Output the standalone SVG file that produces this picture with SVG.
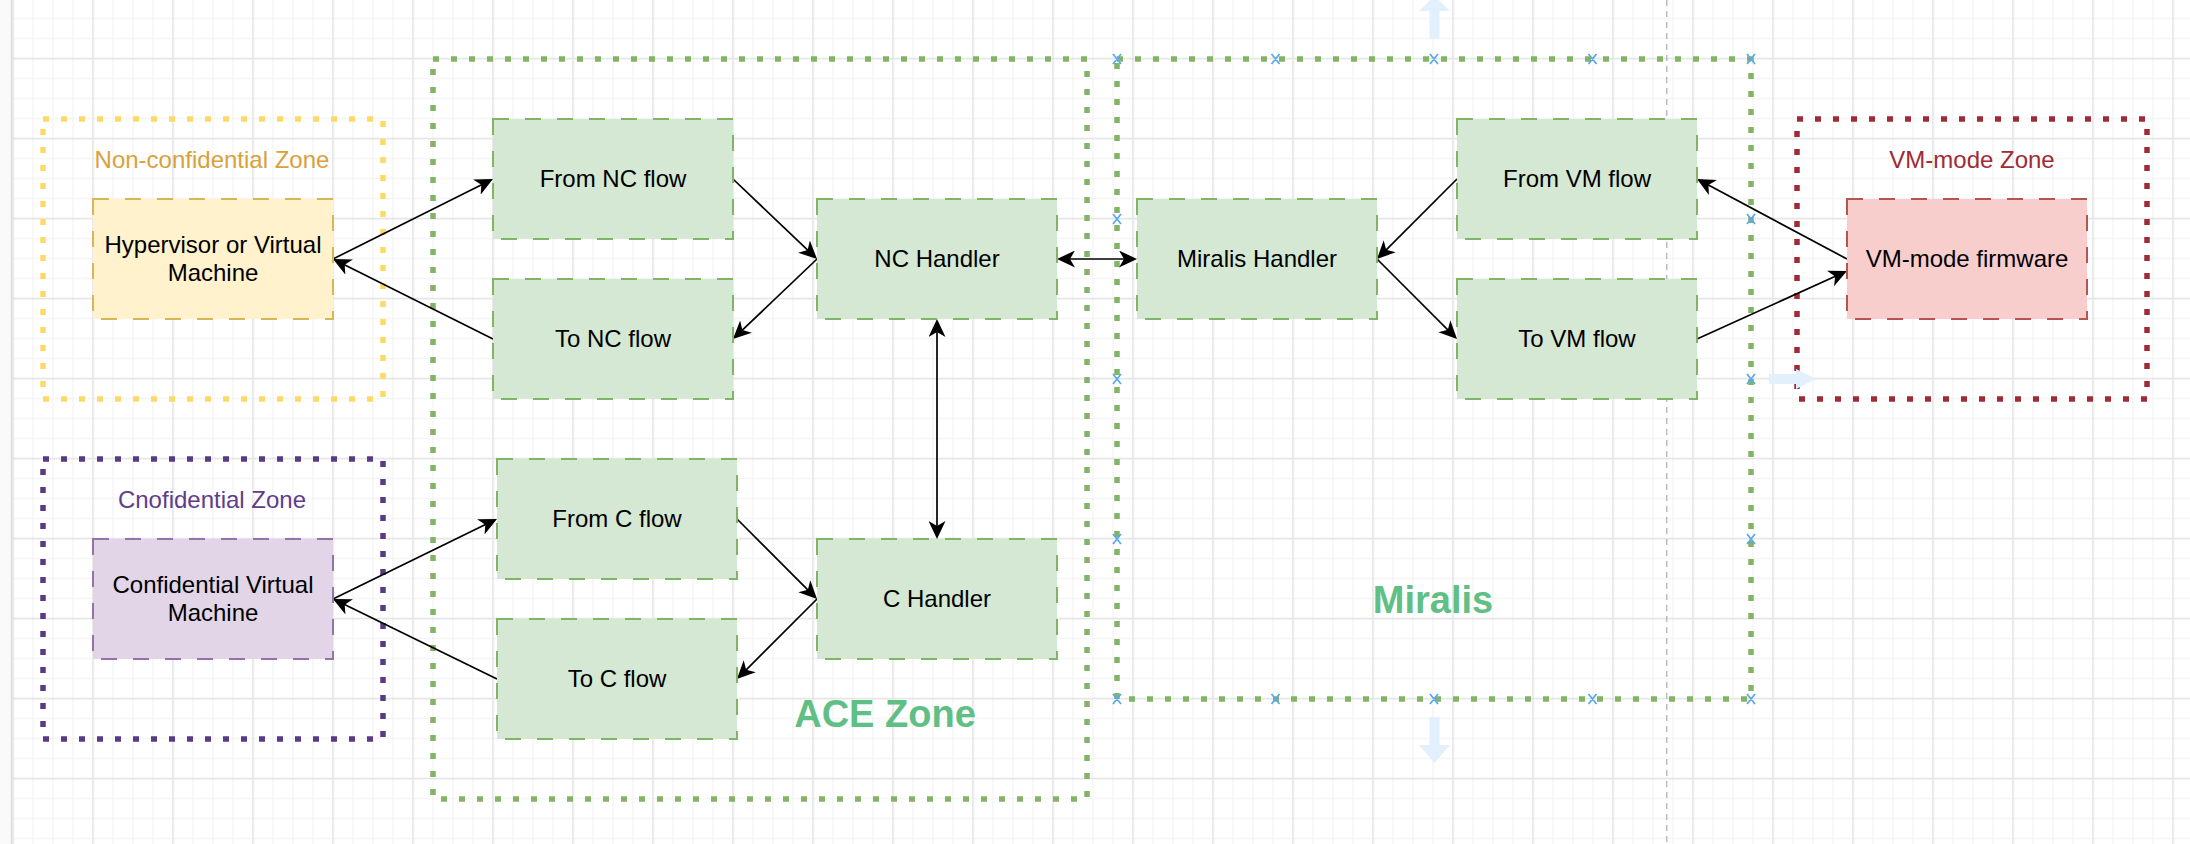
<svg xmlns="http://www.w3.org/2000/svg" width="2190" height="844" viewBox="0 0 2190 844">
<defs>
<pattern id="grid" patternUnits="userSpaceOnUse" x="12.25" y="57.75" width="80" height="80">
<rect width="80" height="80" fill="#ffffff"/>
<rect x="20.25" y="0" width="1" height="80" fill="#f1f1f1"/>
<rect x="40.25" y="0" width="1" height="80" fill="#f1f1f1"/>
<rect x="60.25" y="0" width="1" height="80" fill="#f1f1f1"/>
<rect x="0" y="20.25" width="80" height="1" fill="#f1f1f1"/>
<rect x="0" y="40.25" width="80" height="1" fill="#f1f1f1"/>
<rect x="0" y="60.25" width="80" height="1" fill="#f1f1f1"/>
<rect x="0" y="0" width="1.5" height="80" fill="#e2e2e2"/>
<rect x="0" y="0" width="80" height="1.5" fill="#e2e2e2"/>
</pattern>
<marker id="arr" markerUnits="userSpaceOnUse" markerWidth="18" markerHeight="17" refX="12" refY="8.5" orient="auto-start-reverse" viewBox="0 0 18 17">
<path d="M0,0 L18,8.5 L0,17 L5,8.5 Z" fill="#000000"/>
</marker>
<style>
.zone{fill:none;stroke-width:5.5;stroke-dasharray:6 12;}
.box{stroke-width:2;stroke-dasharray:16 16;}
.g{fill:#D5E8D4;stroke:#82B366;}
.t{font-family:"Liberation Sans",Arial,Helvetica,sans-serif;font-size:24px;text-anchor:middle;fill:#000000;}
.big{font-family:"Liberation Sans",Arial,Helvetica,sans-serif;font-size:38px;font-weight:bold;text-anchor:middle;fill:#60BF84;}
.c{fill:none;stroke:#000000;stroke-width:1.7;marker-end:url(#arr);}
.cb{marker-start:url(#arr);}
.xm{fill:none;stroke:#5AA9EE;stroke-width:1.8;}
.hov{fill:#E1F0FC;}
</style>
</defs>

<g id="background">
<rect x="0" y="0" width="2190" height="844" fill="url(#grid)"/>
<rect x="0" y="0" width="11" height="844" fill="#fafafa"/>
<line x1="11.5" y1="0" x2="11.5" y2="844" stroke="#dedede" stroke-width="1.5"/>
<line x1="1666.7" y1="0" x2="1666.7" y2="844" stroke="#bbbbbb" stroke-width="1.5" stroke-dasharray="6 5"/>
</g>

<g id="zone-nc">
<rect class="zone" x="43" y="119" width="340" height="280" stroke="#FFD966"/>
<text class="t" x="212" y="168" style="fill:#D8A23A">Non-confidential Zone</text>
</g>
<g id="zone-c">
<rect class="zone" x="43" y="459" width="340" height="280" stroke="#5A3A85"/>
<text class="t" x="212" y="508" style="fill:#5E3D8C">Cnofidential Zone</text>
</g>
<g id="zone-ace">
<rect class="zone" x="433" y="59" width="654" height="740" stroke="#82B366"/>
<text class="big" x="885" y="727">ACE Zone</text>
</g>
<g id="zone-miralis">
<rect class="zone" x="1117" y="59" width="634" height="640" stroke="#82B366"/>
<text class="big" x="1433" y="613">Miralis</text>
</g>
<g id="zone-vm">
<rect class="zone" x="1797" y="119" width="350" height="280" stroke="#9E2B35"/>
<text class="t" x="1972" y="168" style="fill:#9E2B35">VM-mode Zone</text>
</g>

<g id="connectors">
<line class="c" x1="333" y1="259" x2="487.6" y2="181.7"/>
<line class="c" x1="493" y1="339" x2="338.4" y2="261.7"/>
<line class="c" x1="733" y1="179" x2="812.7" y2="254.9"/>
<line class="c" x1="817" y1="259" x2="737.3" y2="334.9"/>
<line class="c cb" x1="1063" y1="259" x2="1131" y2="259"/>
<line class="c cb" x1="937" y1="325" x2="937" y2="533"/>
<line class="c" x1="737" y1="519" x2="812.8" y2="594.8"/>
<line class="c" x1="817" y1="599" x2="741.2" y2="674.8"/>
<line class="c" x1="333" y1="599" x2="491.6" y2="521.6"/>
<line class="c" x1="497" y1="679" x2="338.4" y2="601.6"/>
<line class="c" x1="1457" y1="179" x2="1381.2" y2="254.8"/>
<line class="c" x1="1377" y1="259" x2="1452.8" y2="334.8"/>
<line class="c" x1="1847" y1="259" x2="1702.3" y2="181.8"/>
<line class="c" x1="1697" y1="339" x2="1841.5" y2="273.5"/>
</g>

<g id="hypervisor">
<rect class="box" x="93" y="199" width="240" height="120" fill="#FFF2CC" stroke="#D6B656"/>
<text class="t" x="213" y="253">Hypervisor or Virtual</text>
<text class="t" x="213" y="281">Machine</text>
</g>
<g id="cvm">
<rect class="box" x="93" y="539" width="240" height="120" fill="#E1D5E7" stroke="#9673A6"/>
<text class="t" x="213" y="593">Confidential Virtual</text>
<text class="t" x="213" y="621">Machine</text>
</g>
<g id="from-nc">
<rect class="box g" x="493" y="119" width="240" height="120"/>
<text class="t" x="613" y="187">From NC flow</text>
</g>
<g id="to-nc">
<rect class="box g" x="493" y="279" width="240" height="120"/>
<text class="t" x="613" y="347">To NC flow</text>
</g>
<g id="from-c">
<rect class="box g" x="497" y="459" width="240" height="120"/>
<text class="t" x="617" y="527">From C flow</text>
</g>
<g id="to-c">
<rect class="box g" x="497" y="619" width="240" height="120"/>
<text class="t" x="617" y="687">To C flow</text>
</g>
<g id="nc-handler">
<rect class="box g" x="817" y="199" width="240" height="120"/>
<text class="t" x="937" y="267">NC Handler</text>
</g>
<g id="c-handler">
<rect class="box g" x="817" y="539" width="240" height="120"/>
<text class="t" x="937" y="607">C Handler</text>
</g>
<g id="miralis-handler">
<rect class="box g" x="1137" y="199" width="240" height="120"/>
<text class="t" x="1257" y="267">Miralis Handler</text>
</g>
<g id="from-vm">
<rect class="box g" x="1457" y="119" width="240" height="120"/>
<text class="t" x="1577" y="187">From VM flow</text>
</g>
<g id="to-vm">
<rect class="box g" x="1457" y="279" width="240" height="120"/>
<text class="t" x="1577" y="347">To VM flow</text>
</g>
<g id="vm-firmware">
<rect class="box" x="1847" y="199" width="240" height="120" fill="#F8CECC" stroke="#B85450"/>
<text class="t" x="1967" y="267">VM-mode firmware</text>
</g>

<g id="selection-handles">
<path class="xm" d="M1113,54 L1121,64 M1121,54 L1113,64 M1271.5,54 L1279.5,64 M1279.5,54 L1271.5,64 M1430,54 L1438,64 M1438,54 L1430,64 M1588.5,54 L1596.5,64 M1596.5,54 L1588.5,64 M1747,54 L1755,64 M1755,54 L1747,64"/>
<path class="xm" d="M1113,694 L1121,704 M1121,694 L1113,704 M1271.5,694 L1279.5,704 M1279.5,694 L1271.5,704 M1430,694 L1438,704 M1438,694 L1430,704 M1588.5,694 L1596.5,704 M1596.5,694 L1588.5,704 M1747,694 L1755,704 M1755,694 L1747,704"/>
<path class="xm" d="M1113,214 L1121,224 M1121,214 L1113,224 M1113,374 L1121,384 M1121,374 L1113,384 M1113,534 L1121,544 M1121,534 L1113,544"/>
<path class="xm" d="M1747,214 L1755,224 M1755,214 L1747,224 M1747,374 L1755,384 M1755,374 L1747,384 M1747,534 L1755,544 M1755,534 L1747,544"/>
<path class="hov" d="M1429.5,39 L1439.5,39 L1439.5,11 L1450,11 L1434.5,-4 L1419,11 L1429.5,11 Z"/>
<path class="hov" d="M1429.5,717 L1439.5,717 L1439.5,745 L1450,745 L1434.5,763 L1419,745 L1429.5,745 Z"/>
<path class="hov" d="M1769,374 L1796,374 L1796,369 L1816,379 L1796,389 L1796,384 L1769,384 Z"/>
</g>
</svg>
